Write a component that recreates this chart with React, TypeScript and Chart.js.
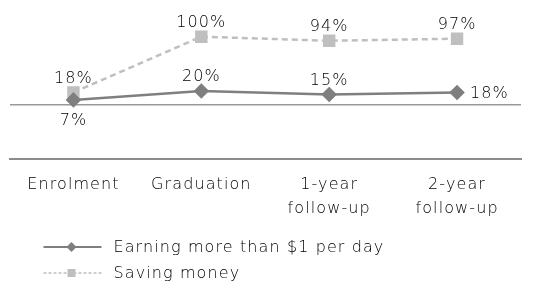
import React, { useEffect, useRef } from "react";
import { Chart, registerables } from "chart.js";

Chart.register(...registerables);

const categories: (string | string[])[] = [
  "Enrolment",
  "Graduation",
  ["1-year", "follow-up"],
  ["2-year", "follow-up"],
];
const earningValues = [7, 20, 15, 18];
const savingValues = [18, 100, 94, 97];
const earningLabel = "Earning more than $1 per day";
const savingLabel = "Saving money";

// where each value label sits relative to its point
const earningLabelPos = ["below", "above", "above", "right"];
const savingLabelPos = ["above", "above", "above", "above"];

const FONT = "'DejaVu Sans', sans-serif";
const WEIGHT = 200;
const SPACING = "1.1px";
const TEXT = "#000000";
const EARN_COLOR = "#7f7f7f";
const SAVE_COLOR = "#bfbfbf";

const spacingPlugin = {
  id: "letterSpacing",
  beforeDraw(chart: any) {
    (chart.ctx as any).letterSpacing = SPACING;
  },
};

const valueLabelPlugin = {
  id: "valueLabels",
  afterDatasetsDraw(chart: any) {
    const ctx = chart.ctx;
    ctx.save();
    (ctx as any).letterSpacing = SPACING;
    ctx.font = `${WEIGHT} 16px ${FONT}`;
    ctx.fillStyle = TEXT;
    const positions = [earningLabelPos, savingLabelPos];
    chart.data.datasets.forEach((ds: any, di: number) => {
      const meta = chart.getDatasetMeta(di);
      meta.data.forEach((pt: any, i: number) => {
        const pos = positions[di][i];
        const txt = `${ds.data[i]}%`;
        let x = pt.x;
        let y = pt.y;
        ctx.textBaseline = "middle";
        ctx.textAlign = "center";
        if (pos === "above") y -= 14;
        else if (pos === "below") y += 21;
        else if (pos === "right") {
          x += 13;
          ctx.textAlign = "left";
          y += 1;
        }
        ctx.fillText(txt, x, y);
      });
    });
    ctx.restore();
  },
};

const legendPlugin = {
  id: "customLegend",
  afterDraw(chart: any) {
    const ctx = chart.ctx;
    const left = chart.chartArea.left + 34;
    const base = chart.chartArea.bottom + 88;
    const gap = 26;
    ctx.save();
    (ctx as any).letterSpacing = SPACING;
    chart.data.datasets.forEach((ds: any, di: number) => {
      const y = base + di * gap;
      ctx.strokeStyle = ds.borderColor;
      ctx.lineWidth = di === 0 ? 2 : 1.5;
      ctx.setLineDash(di === 0 ? [] : [3, 2]);
      ctx.beginPath();
      ctx.moveTo(left, y);
      ctx.lineTo(left + 58, y);
      ctx.stroke();
      ctx.setLineDash([]);
      ctx.fillStyle = ds.pointBackgroundColor;
      const cx = left + 28;
      if (di === 0) {
        ctx.beginPath();
        ctx.moveTo(cx, y - 5);
        ctx.lineTo(cx + 5, y);
        ctx.lineTo(cx, y + 5);
        ctx.lineTo(cx - 5, y);
        ctx.closePath();
        ctx.fill();
      } else {
        ctx.fillRect(cx - 4, y - 4, 8, 8);
      }
      ctx.fillStyle = TEXT;
      ctx.font = `${WEIGHT} 16px ${FONT}`;
      ctx.textAlign = "left";
      ctx.textBaseline = "middle";
      ctx.fillText(ds.label, left + 70, y + 1);
    });
    ctx.restore();
  },
};

export default function App() {
  const ref = useRef<HTMLCanvasElement>(null);
  useEffect(() => {
    document.body.style.margin = "0";
    const canvas = ref.current!;
    const chart = new Chart(canvas, {
      type: "line",
      data: {
        labels: categories,
        datasets: [
          {
            label: earningLabel,
            data: earningValues,
            borderColor: EARN_COLOR,
            backgroundColor: EARN_COLOR,
            pointBackgroundColor: EARN_COLOR,
            pointBorderColor: EARN_COLOR,
            pointStyle: "rectRot",
            pointRadius: 6,
            borderWidth: 2.5,
            tension: 0,
          },
          {
            label: savingLabel,
            data: savingValues,
            borderColor: SAVE_COLOR,
            backgroundColor: SAVE_COLOR,
            pointBackgroundColor: SAVE_COLOR,
            pointBorderColor: SAVE_COLOR,
            pointStyle: "rect",
            pointRadius: 7,
            borderWidth: 2.5,
            borderDash: [6, 4],
            tension: 0,
          },
        ],
      },
      options: {
        responsive: false,
        animation: false,
        layout: { padding: { left: 8, right: 28, top: 9, bottom: 0 } },
        plugins: {
          legend: { display: false },
          tooltip: { enabled: false },
        },
        scales: {
          x: {
            offset: true,
            grid: { display: false },
            border: { display: true, color: "#8c8c8c", width: 2 },
            ticks: {
              color: TEXT,
              font: { family: FONT, size: 16, weight: WEIGHT as any, lineHeight: 1.5 },
              padding: 6,
              maxRotation: 0,
            },
            afterFit: (scale: any) => {
              scale.height = 130;
            },
          },
          y: {
            min: -80,
            max: 140,
            ticks: { display: false, stepSize: 20 },
            border: { display: false },
            grid: {
              drawTicks: false,
              color: (c: any) => (c.tick && c.tick.value === 0 ? "#999999" : "rgba(0,0,0,0)"),
              lineWidth: (c: any) => (c.tick && c.tick.value === 0 ? 1.5 : 0),
            },
            afterFit: (scale: any) => {
              scale.width = 0;
            },
          },
        },
      },
      plugins: [spacingPlugin, valueLabelPlugin, legendPlugin],
    });
    return () => chart.destroy();
  }, []);
  return <canvas ref={ref} width={549} height={289} style={{ display: "block" }} />;
}
